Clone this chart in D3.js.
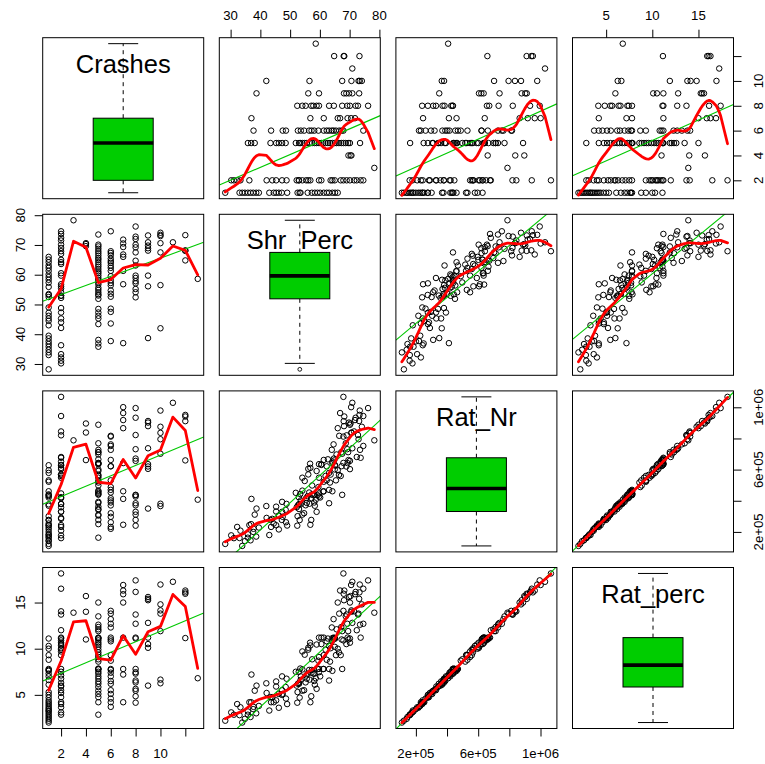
<!DOCTYPE html>
<html>
<head>
<meta charset="utf-8">
<script src="https://cdn.jsdelivr.net/npm/d3@7"></script>
<style>
  html, body { margin: 0; padding: 0; background: #ffffff; }
  svg { display: block; font-family: "Liberation Sans", Arial, sans-serif; }
</style>
</head>
<body>
<svg id="chart" width="765" height="764"></svg>
<script>
// ---- data ---------------------------------------------------------------
const varNames = ["Crashes", "Shr_Perc", "Rat_Nr", "Rat_perc"];

const crashes = [
  1,1,1,1,1,1,1,1,1,1,1,1,1,1,1,1,1,1,1,1,1,1,1,1,1,1,1,1,1,
  2,2,2,2,2,2,2,2,2,2,2,2,2,2,2,2,2,2,2,2,2,2,2,2,2,2,2,2,2,2,
  3,
  4,4,4,
  5,5,5,5,5,5,5,5,5,5,5,5,5,5,5,5,5,5,5,5,5,5,5,5,5,5,5,5,5,5,5,5,5,5,
  6,6,6,6,6,6,6,6,6,6,6,6,6,6,6,6,6,6,6,6,6,
  7,7,7,7,7,7,7,7,
  8,8,8,8,8,8,8,8,8,8,8,8,8,8,8,
  9,9,9,9,9,9,9,9,
  10,10,10,10,10,10,10,
  11,
  12,12,12,12,
  13
];

const shrPerc = [
  66.0,65.1,64.2,63.1,62.3,61.3,60.1,59.2,58.3,57.3,55.9,53.5,53.2,52.5,49.0,47.2,46.2,45.3,44.5,43.0,39.5,38.6,37.6,36.7,35.8,34.8,33.9,33.0,28.2,
  74.6,73.7,72.4,71.5,70.1,69.0,67.9,67.0,65.0,64.2,63.6,60.5,59.7,56.8,56.1,55.4,54.1,53.0,52.9,52.2,48.8,47.3,45.3,44.0,42.1,36.3,33.3,32.2,31.1,30.2,
  78.3,
  70.6,70.3,69.6,
  73.5,70.1,69.5,68.7,67.9,67.2,66.4,65.6,65.0,64.2,63.4,62.7,61.9,61.1,60.5,59.7,58.9,58.2,57.4,56.7,55.6,54.9,54.1,53.0,53.4,51.9,48.5,47.3,46.2,45.3,43.4,38.1,36.9,35.8,
  74.6,67.9,67.3,66.5,65.4,64.6,64.0,63.1,62.3,61.3,59.5,58.1,57.2,56.4,54.7,53.6,52.6,48.6,47.5,43.6,37.7,
  71.8,70.5,69.3,66.8,66.0,61.3,56.8,37.0,
  76.2,72.8,72.0,70.1,69.2,67.5,64.7,63.1,59.7,58.9,57.8,57.1,55.2,54.1,52.4,
  73.2,70.9,69.8,68.9,68.1,59.7,56.1,38.7,
  74.1,73.4,73.0,70.6,67.5,56.5,42.0,
  70.9,
  73.3,68.2,68.0,64.8,
  58.6
];

const ratNr = [
  596000,628000,461000,579000,531000,522000,421000,436000,368000,441000,430000,377000,276000,301000,241000,277000,216000,243000,254000,180000,228000,170000,200000,146000,185000,141000,110000,161000,123000,
  944000,676000,681000,845000,603000,820000,1067000,559000,627000,651000,568000,630000,447000,611000,569000,417000,548000,379000,423000,358000,380000,329000,331000,284000,290000,244000,208000,232000,160000,178000,
  788000,
  838000,896000,661000,
  727000,888000,712000,769000,643000,712000,566000,697000,601000,641000,517000,666000,559000,459000,634000,548000,591000,439000,498000,638000,386000,527000,465000,347000,443000,451000,342000,393000,305000,362000,277000,311000,250000,163000,
  752000,812000,622000,817000,531000,762000,727000,470000,621000,662000,488000,389000,416000,453000,320000,402000,370000,262000,297000,232000,220000,
  918000,1001000,642000,963000,866000,461000,246000,412000,
  995000,822000,933000,656000,731000,438000,671000,384000,427000,329000,436000,277000,371000,311000,240000,
  912000,737000,902000,620000,879000,635000,605000,350000,
  875000,979000,795000,836000,702000,381000,366000,
  1029000,
  951000,941000,911000,659000,
  407000
];

const ratPerc = [
  10.0,11.1,7.6,10.3,8.8,9.3,7.0,7.8,6.1,7.7,7.3,6.6,4.7,5.3,4.0,5.0,3.6,4.4,4.2,3.3,3.8,3.0,3.45,2.6,3.2,2.4,2.0,2.8,2.2,
  16.5,11.2,12.0,14.05,10.65,13.7,18.15,9.3,11.1,10.9,10.05,10.5,7.8,10.35,9.9,7.1,9.7,6.3,7.5,6.0,6.75,5.5,5.9,4.75,5.2,4.2,3.65,4.0,2.85,3.1,
  13.9,
  14.0,15.7,11.0,
  12.6,15.0,11.9,13.5,10.9,12.35,9.6,12.1,10.2,11.15,8.6,11.1,9.9,7.8,11.2,9.1,10.45,7.3,8.85,10.65,6.75,9.35,7.75,6.2,7.85,7.5,5.85,7.0,5.1,6.45,4.75,5.45,4.2,2.85,
  12.7,14.1,11.0,13.8,9.3,13.2,12.3,7.8,10.8,11.2,8.7,6.5,7.4,7.7,5.5,7.0,6.2,4.6,5.1,4.2,3.7,
  15.9,16.9,11.2,16.3,15.0,7.8,4.2,7.2,
  17.4,13.7,16.15,11.1,12.7,7.8,11.2,6.55,7.45,5.65,7.3,4.85,6.35,5.45,4.15,
  15.4,12.8,15.6,10.5,15.25,11.2,10.1,6.0,
  14.8,16.95,13.8,14.15,11.9,6.65,6.25,
  17.25,
  16.1,16.3,15.95,11.15,
  6.8
];

// axis ticks and their labels, one list per variable
const tickValues = [
  [2, 4, 6, 8, 10, 12],
  [30, 40, 50, 60, 70, 80],
  [200000, 400000, 600000, 800000, 1000000],
  [5, 10, 15]
];
const tickLabels = [
  ["2", "4", "6", "8", "10", ""],
  ["30", "40", "50", "60", "70", "80"],
  ["2e+05", "", "6e+05", "", "1e+06"],
  ["5", "10", "15"]
];

// ---- layout -------------------------------------------------------------
const columns = [crashes, shrPerc, ratNr, ratPerc];
const left0 = 42.7, top0 = 37.7, size = 161, step = 176.6;
const boxFill = "#00cd00", lmColor = "#00c800", smoothColor = "#ff0000";
const smoothDf = 11;

const svg = d3.select("#chart");
const defs = svg.append("defs");

const domains = columns.map(v => {
  const e = d3.extent(v);
  const pad = (e[1] - e[0]) * 0.04;
  return [e[0] - pad, e[1] + pad];
});
const xs = domains.map((d, j) => d3.scaleLinear().domain(d).range([left0 + j * step, left0 + j * step + size]));
const ys = domains.map((d, i) => d3.scaleLinear().domain(d).range([top0 + i * step + size, top0 + i * step]));

// ---- statistics ---------------------------------------------------------
function linearFit(x, y) {
  const mx = d3.mean(x), my = d3.mean(y);
  let sxy = 0, sxx = 0;
  for (let k = 0; k < x.length; k++) { sxy += (x[k] - mx) * (y[k] - my); sxx += (x[k] - mx) ** 2; }
  const b = sxy / sxx;
  return { a: my - b * mx, b };
}

// penalised smoothing curve (discrete cubic smoothing spline) with a set number of
// equivalent degrees of freedom; evaluated at the distinct x values
function smoothCurve(xv, yv, df) {
  const order = d3.range(xv.length).sort((p, q) => xv[p] - xv[q]);
  const ux = [], w = [], sy = [];
  for (const k of order) {
    const x = xv[k];
    if (ux.length && Math.abs(x - ux[ux.length - 1]) < 1e-9) { w[w.length - 1]++; sy[sy.length - 1] += yv[k]; }
    else { ux.push(x); w.push(1); sy.push(yv[k]); }
  }
  const m = ux.length;
  const yb = sy.map((s, i) => s / w[i]);
  if (m < 4) return ux.map((x, i) => [x, yb[i]]);
  const r = ux[m - 1] - ux[0];
  const t = ux.map(x => (x - ux[0]) / r);
  const P = Array.from({ length: m }, () => new Float64Array(m));
  for (let i = 1; i < m - 1; i++) {
    const h0 = t[i] - t[i - 1], h1 = t[i + 1] - t[i], g = (h0 + h1) / 2;
    const a = 1 / h0, c = 1 / h1, b = -(a + c), s = 1 / Math.sqrt(g);
    const row = [[i - 1, a * s], [i, b * s], [i + 1, c * s]];
    for (const [p, vp] of row) for (const [q, vq] of row) P[p][q] += vp * vq;
  }
  function fitWith(lambda) {
    const L = Array.from({ length: m }, () => new Float64Array(m));
    for (let i = 0; i < m; i++) {
      for (let j = Math.max(0, i - 2); j <= i; j++) {
        let s = (i === j ? w[i] : 0) + lambda * P[i][j];
        for (let k = Math.max(0, i - 2); k < j; k++) s -= L[i][k] * L[j][k];
        if (i === j) L[i][i] = Math.sqrt(Math.max(s, 1e-300));
        else L[i][j] = s / L[j][j];
      }
    }
    const solve = bvec => {
      const z = new Float64Array(m);
      for (let i = 0; i < m; i++) {
        let s = bvec[i];
        for (let k = Math.max(0, i - 2); k < i; k++) s -= L[i][k] * z[k];
        z[i] = s / L[i][i];
      }
      const f = new Float64Array(m);
      for (let i = m - 1; i >= 0; i--) {
        let s = z[i];
        for (let k = i + 1; k <= Math.min(m - 1, i + 2); k++) s -= L[k][i] * f[k];
        f[i] = s / L[i][i];
      }
      return f;
    };
    const f = solve(yb.map((v, i) => v * w[i]));
    let tr = 0;
    for (let j = 0; j < m; j++) {
      const e = new Float64Array(m); e[j] = w[j];
      tr += solve(e)[j];
    }
    return { f, tr };
  }
  const target = Math.min(df, m - 1.5);
  let lo = -14, hi = 6, res = null;
  for (let it = 0; it < 40; it++) {
    const mid = (lo + hi) / 2;
    res = fitWith(Math.pow(10, mid));
    if (res.tr > target) lo = mid; else hi = mid;
  }
  return ux.map((x, i) => [x, res.f[i]]);
}

function fivenum(v) {
  const x = v.slice().sort((a, b) => a - b), n = x.length;
  const n4 = Math.floor((n + 3) / 2) / 2;
  return [1, n4, (n + 1) / 2, n + 1 - n4, n].map(k => 0.5 * (x[Math.floor(k) - 1] + x[Math.ceil(k) - 1]));
}

// ---- panels -------------------------------------------------------------
for (let i = 0; i < 4; i++) {
  for (let j = 0; j < 4; j++) {
    const x0 = xs[j].range()[0], x1 = xs[j].range()[1];
    const yTop = ys[i].range()[1], yBot = ys[i].range()[0];
    const clipId = `clip-${i}-${j}`;
    defs.append("clipPath").attr("id", clipId)
      .append("rect").attr("x", x0).attr("y", yTop).attr("width", x1 - x0).attr("height", yBot - yTop);
    const g = svg.append("g");

    if (i === j) {
      const v = columns[i];
      const cx = (x0 + x1) / 2;
      g.append("text")
        .attr("x", cx).attr("y", yTop + 35)
        .attr("text-anchor", "middle")
        .attr("font-size", 25.5)
        .attr("fill", "#000")
        .text(varNames[i]);

      const [lo, q1, med, q3, hi] = fivenum(v);
      const iqr = q3 - q1;
      const inside = v.filter(d => d >= q1 - 1.5 * iqr && d <= q3 + 1.5 * iqr);
      const wLo = d3.min(inside), wHi = d3.max(inside);
      const outliers = v.filter(d => d < wLo || d > wHi);
      const y = ys[i];
      const halfBox = 30, halfCap = 15;

      g.append("line").attr("x1", cx).attr("x2", cx).attr("y1", y(q3)).attr("y2", y(wHi))
        .attr("stroke", "#000").attr("stroke-dasharray", "4,4");
      g.append("line").attr("x1", cx).attr("x2", cx).attr("y1", y(q1)).attr("y2", y(wLo))
        .attr("stroke", "#000").attr("stroke-dasharray", "4,4");
      [wHi, wLo].forEach(d => g.append("line")
        .attr("x1", cx - halfCap).attr("x2", cx + halfCap).attr("y1", y(d)).attr("y2", y(d))
        .attr("stroke", "#000").attr("stroke-width", 1));
      g.append("rect")
        .attr("x", cx - halfBox).attr("y", y(q3))
        .attr("width", 2 * halfBox).attr("height", y(q1) - y(q3))
        .attr("fill", boxFill).attr("stroke", "#000").attr("stroke-width", 1);
      g.append("line").attr("x1", cx - halfBox).attr("x2", cx + halfBox).attr("y1", y(med)).attr("y2", y(med))
        .attr("stroke", "#000").attr("stroke-width", 3.6);
      g.selectAll("circle.out").data(outliers).join("circle")
        .attr("cx", cx).attr("cy", d => y(d)).attr("r", 1.9)
        .attr("fill", "none").attr("stroke", "#000").attr("stroke-width", 0.9);
    } else {
      const xv = columns[j], yv = columns[i];
      const pts = xv.map((d, k) => [d, yv[k]]);
      g.selectAll("circle").data(pts).join("circle")
        .attr("cx", d => xs[j](d[0])).attr("cy", d => ys[i](d[1]))
        .attr("r", 2.75)
        .attr("fill", "none").attr("stroke", "#000").attr("stroke-width", 1);

      const lg = g.append("g").attr("clip-path", `url(#${clipId})`);
      const fit = linearFit(xv, yv);
      const dx = xs[j].domain();
      lg.append("line")
        .attr("x1", xs[j](dx[0])).attr("y1", ys[i](fit.a + fit.b * dx[0]))
        .attr("x2", xs[j](dx[1])).attr("y2", ys[i](fit.a + fit.b * dx[1]))
        .attr("stroke", lmColor).attr("stroke-width", 1.1);

      const curve = smoothCurve(xv, yv, smoothDf);
      lg.append("path")
        .attr("d", d3.line().x(d => xs[j](d[0])).y(d => ys[i](d[1]))(curve))
        .attr("fill", "none").attr("stroke", smoothColor).attr("stroke-width", 2.8)
        .attr("stroke-linejoin", "round").attr("stroke-linecap", "round");
    }

    g.append("rect")
      .attr("x", x0).attr("y", yTop).attr("width", x1 - x0).attr("height", yBot - yTop)
      .attr("fill", "none").attr("stroke", "#000").attr("stroke-width", 1);
  }
}

// ---- axes ---------------------------------------------------------------
const fontSize = 13.2;
function drawAxis(kind, v) {
  const vals = tickValues[v], labels = tickLabels[v];
  let axis, g;
  if (kind === "top") {
    axis = d3.axisTop(xs[v]); g = svg.append("g").attr("transform", `translate(0,${ys[0].range()[1]})`);
  } else if (kind === "bottom") {
    axis = d3.axisBottom(xs[v]); g = svg.append("g").attr("transform", `translate(0,${ys[3].range()[0]})`);
  } else if (kind === "left") {
    axis = d3.axisLeft(ys[v]); g = svg.append("g").attr("transform", `translate(${xs[0].range()[0]},0)`);
  } else {
    axis = d3.axisRight(ys[v]); g = svg.append("g").attr("transform", `translate(${xs[3].range()[1]},0)`);
  }
  axis.tickValues(vals).tickSize(8).tickSizeOuter(0).tickFormat("");
  g.call(axis);
  g.select(".domain").remove();
  g.selectAll(".tick line").attr("stroke", "#000");

  const lab = svg.append("g").attr("font-size", fontSize).attr("fill", "#000").attr("text-anchor", "middle");
  vals.forEach((t, k) => {
    if (!labels[k]) return;
    if (kind === "top") {
      lab.append("text").attr("x", xs[v](t)).attr("y", ys[0].range()[1] - 18).text(labels[k]);
    } else if (kind === "bottom") {
      lab.append("text").attr("x", xs[v](t)).attr("y", ys[3].range()[0] + 29.5).text(labels[k]);
    } else if (kind === "left") {
      lab.append("text").attr("transform", `translate(${xs[0].range()[0] - 18},${ys[v](t)}) rotate(-90)`).text(labels[k]);
    } else {
      lab.append("text").attr("transform", `translate(${xs[3].range()[1] + 29.5},${ys[v](t)}) rotate(-90)`).text(labels[k]);
    }
  });
}
drawAxis("top", 1);
drawAxis("top", 3);
drawAxis("bottom", 0);
drawAxis("bottom", 2);
drawAxis("left", 1);
drawAxis("left", 3);
drawAxis("right", 0);
drawAxis("right", 2);
</script>
</body>
</html>
